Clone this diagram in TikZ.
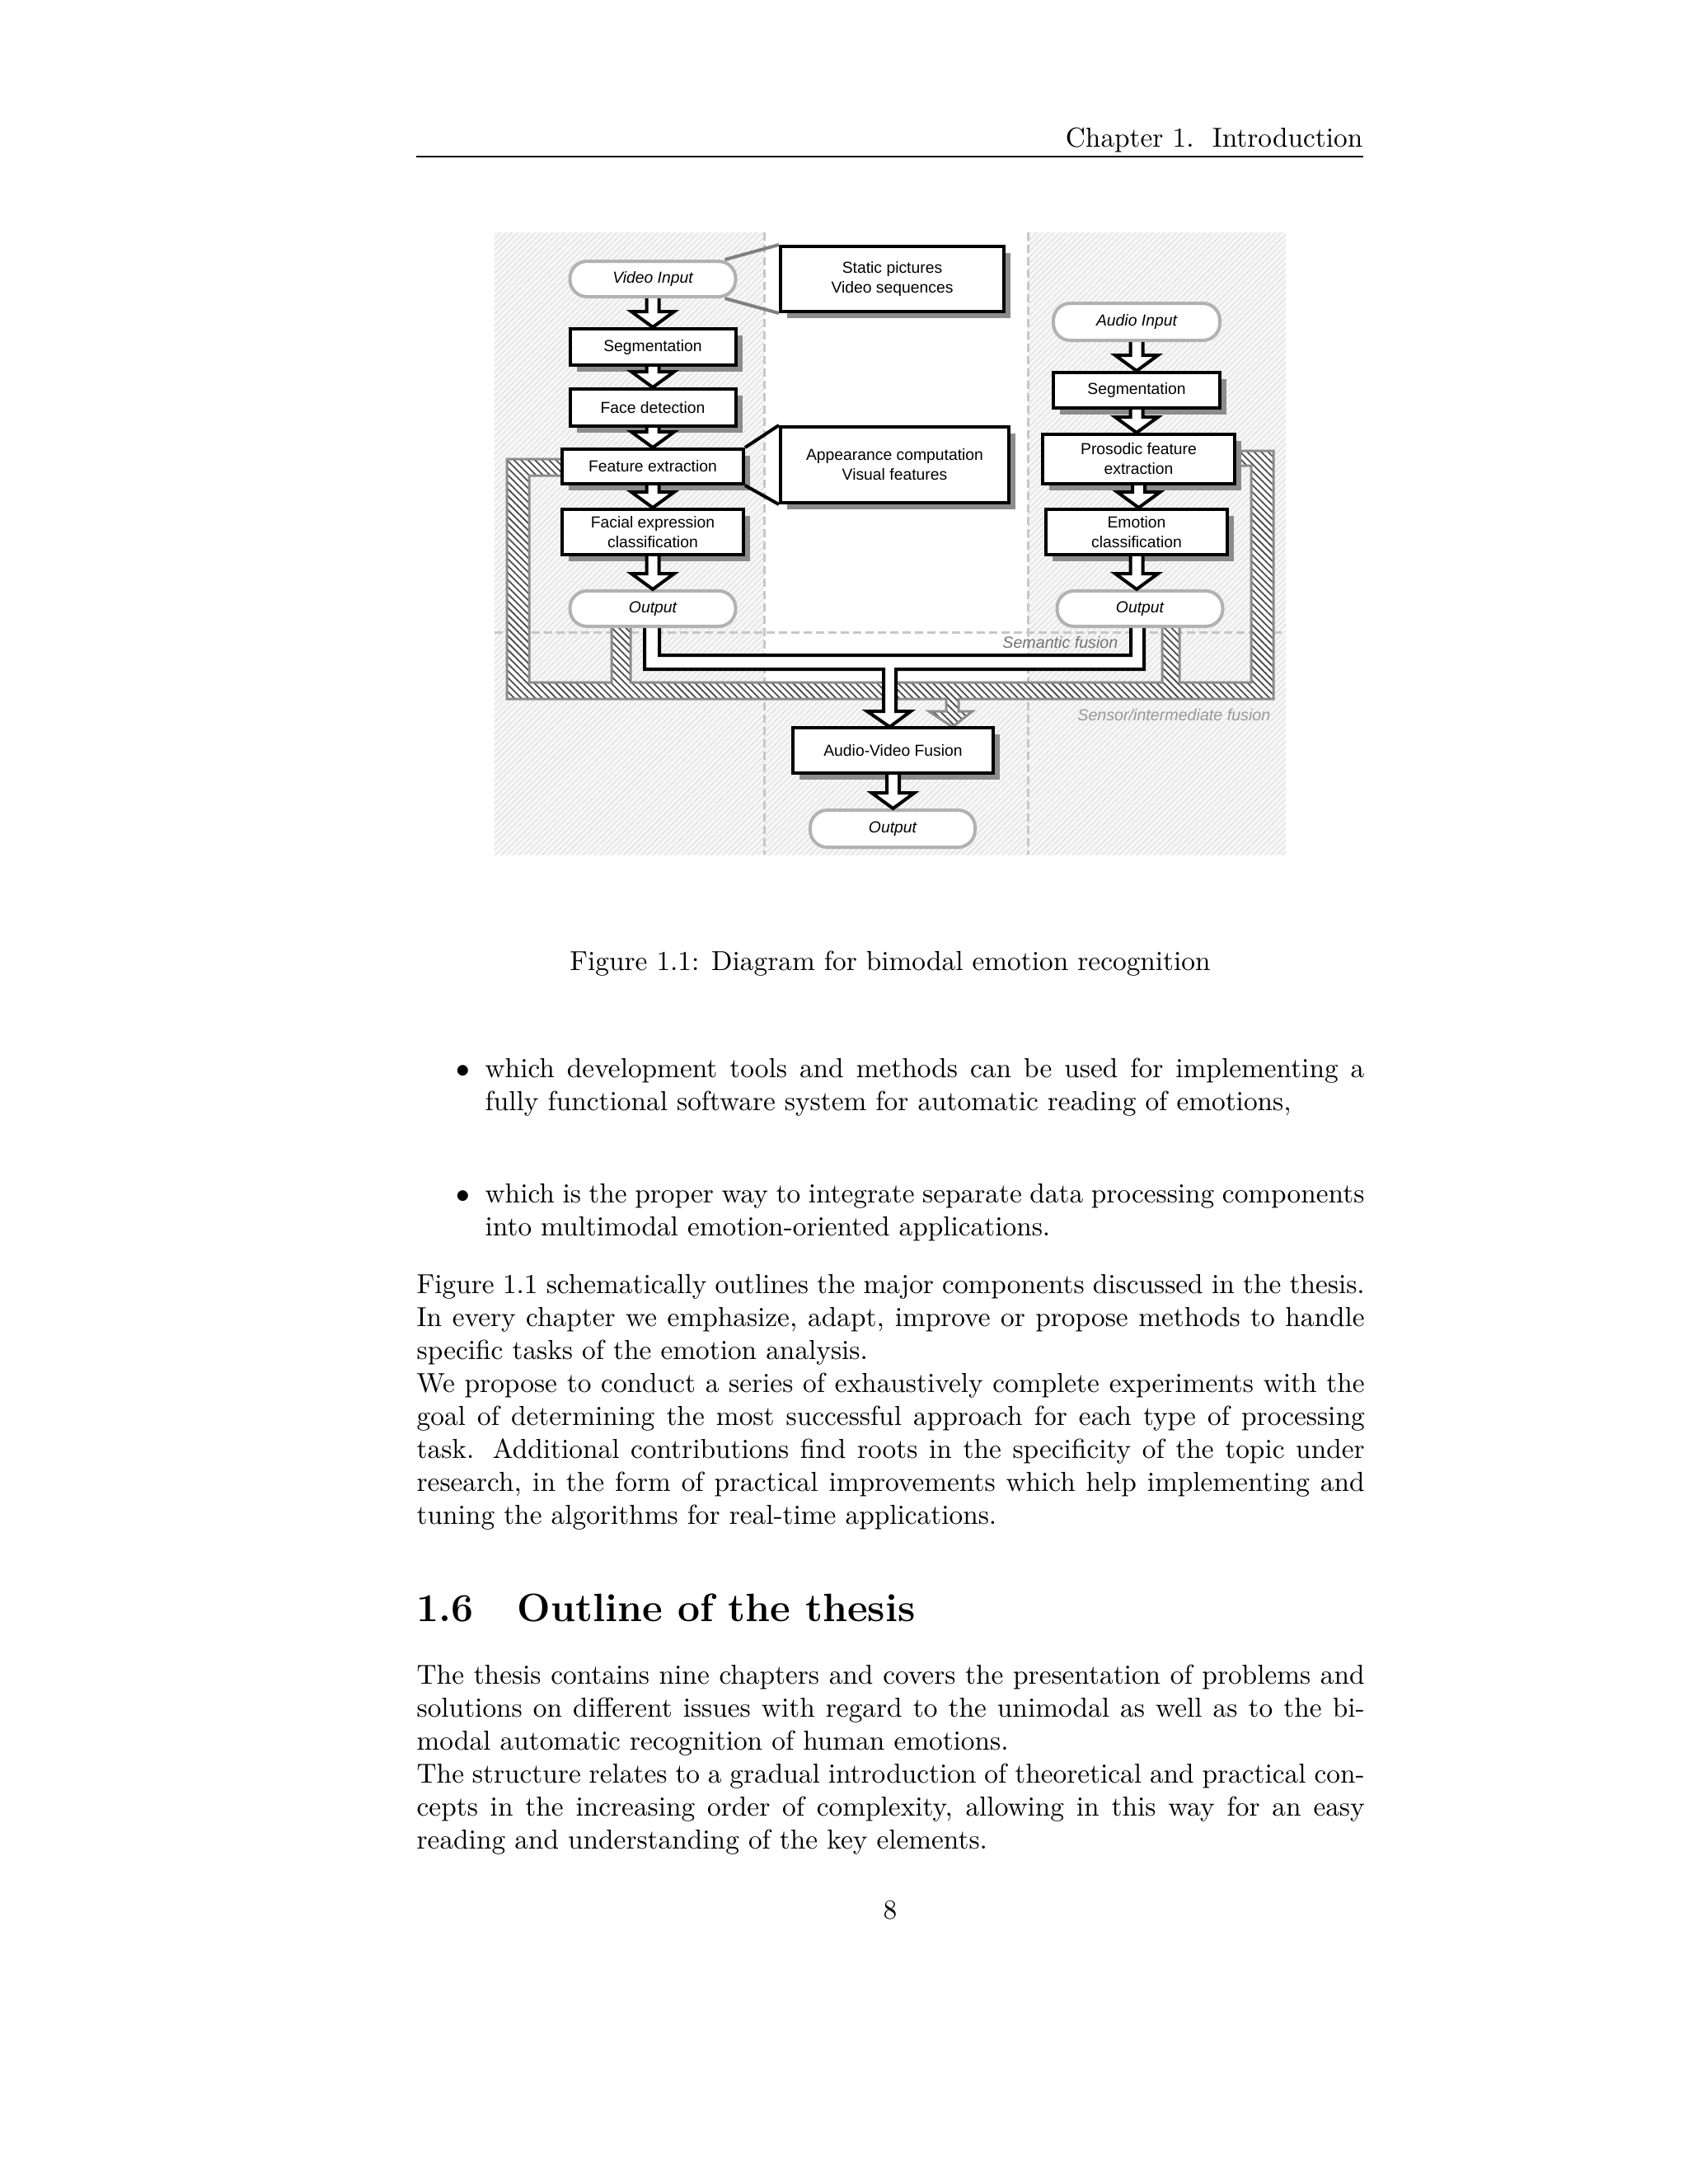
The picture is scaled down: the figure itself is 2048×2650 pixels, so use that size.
\documentclass[tikz,border=0pt]{standalone}
\usepackage{fontspec}
\newfontfamily\diafont{Liberation Sans}
\usetikzlibrary{calc, patterns.meta, shadows}

\tikzset{
  procbox/.style={draw=black, line width=1.2pt, fill=white, inner sep=0pt, align=center,
    font=\diafont\fontsize{5.8pt}{7.2pt}\selectfont,
    general shadow={shadow xshift=2.4pt, shadow yshift=-2.4pt, fill=black!45}},
  iobox/.style={draw=black!30, line width=1.2pt, fill=white, rounded corners=6.2pt,
    inner sep=0pt, minimum width=60.3pt, minimum height=12.9pt,
    font=\diafont\fontsize{5.8pt}{7.2pt}\selectfont\itshape},
  blockarrow/.style={draw=black, line width=1.2pt, fill=white},
  sepline/.style={black!22, line width=0.9pt, dash pattern=on 3pt off 1.5pt},
  sensorband/.style={draw=black!45, line width=0.9pt, preaction={fill=white},
    pattern={Lines[angle=-45, distance=1.8pt, line width=0.55pt]}, pattern color=black!70},
  semanticpipe/.style={draw=black, line width=1.2pt},
  fusionlabel/.style={inner sep=0pt, font=\diafont\fontsize{5.9pt}{7pt}\selectfont\itshape},
  bodytext/.style={text width=345pt, align=justify, inner sep=0pt, anchor=base west},
  itemtext/.style={text width=320pt, align=justify, inner sep=0pt, anchor=base west}
}

\newcommand{\flowarrow}[2]{%
  \draw[blockarrow] let \p1=(#1.south), \p2=(#2.north) in
    (\x1-2.25pt,\y1) -- (\x1-2.25pt,\y2+5.7pt) -- (\x1-7.8pt,\y2+5.7pt) -- (\x1,\y2)
    -- (\x1+7.8pt,\y2+5.7pt) -- (\x1+2.25pt,\y2+5.7pt) -- (\x1+2.25pt,\y1);}

\begin{document}
\begin{tikzpicture}[x=0.010542cm, y=-0.010542cm]
  \fill[white] (0,0) rectangle (2048,2650);
  \useasboundingbox (0,0) rectangle (2048,2650);

  % header
  \node[anchor=base east, inner sep=0pt] (header) at (1654,178) {Chapter 1.\ \ Introduction};
  \draw[line width=0.4pt] (505,190) -- (1654,190);

  % figure background
  \fill[black!3] (600,282) rectangle (1560,1037);
  \fill[pattern={Lines[angle=45, distance=1.5pt, line width=0.3pt]}, pattern color=black!13]
    (600,282) rectangle (1560,1037);
  \fill[white] (927,282) rectangle (1247,830);
  \draw[sepline] (927,282) -- (927,1037);
  \draw[sepline] (1247,282) -- (1247,1037);
  \draw[sepline] (600,767) -- (1560,767);

  % sensor / intermediate fusion channel
  \draw[sensorband] (682,557) -- (615,557) -- (615,848) -- (1148,848) -- (1148,863)
    -- (1127,863) -- (1155.5,882) -- (1180,863) -- (1163,863) -- (1163,848)
    -- (1545,848) -- (1545,547) -- (1498,547) -- (1498,565) -- (1518,565)
    -- (1518,828) -- (1431,828) -- (1431,760) -- (1410,760) -- (1410,828)
    -- (765,828) -- (765,760) -- (742,760) -- (742,828) -- (642,828)
    -- (642,577) -- (682,577) -- cycle;

  % semantic fusion channel
  \fill[white] (782,760) -- (782,812) -- (1072,812) -- (1072,863) -- (1052,863)
    -- (1079.5,882) -- (1105,863) -- (1087,863) -- (1087,812) -- (1388,812)
    -- (1388,760) -- (1372,760) -- (1372,795) -- (800,795) -- (800,760) -- cycle;
  \draw[semanticpipe] (782,760) -- (782,812) -- (1072,812) -- (1072,863) -- (1052,863)
    -- (1079.5,882) -- (1105,863) -- (1087,863) -- (1087,812) -- (1388,812) -- (1388,760)
    (1372,760) -- (1372,795) -- (800,795) -- (800,760);

  % video branch
  \node[iobox] (vin) at (792,338.5) {Video Input};
  \node[procbox, minimum width=60.3pt, minimum height=13.2pt] (vseg) at (792,421) {Segmentation};
  \node[procbox, minimum width=60.3pt, minimum height=13.5pt] (vface) at (792,494.5) {Face detection};
  \node[procbox, minimum width=66pt, minimum height=12.6pt] (vfeat) at (792,566) {Feature extraction};
  \node[procbox, minimum width=66pt, minimum height=16.5pt] (vclass) at (792,645.5) {Facial expression\\classification};
  \node[iobox] (vout) at (792,738.5) {Output};
  \node[procbox, minimum width=81.3pt, minimum height=23.7pt] (vsrc) at (1082.5,338.5) {Static pictures\\Video sequences};
  \node[procbox, minimum width=83.1pt, minimum height=27.6pt] (vdesc) at (1085.5,564) {Appearance computation\\Visual features};

  % audio branch
  \node[iobox, minimum width=60.6pt, minimum height=13.5pt] (ain) at (1379,390.5) {Audio Input};
  \node[procbox, minimum width=60.6pt, minimum height=12.9pt] (aseg) at (1379,473.5) {Segmentation};
  \node[procbox, minimum width=69.9pt, minimum height=18pt] (afeat) at (1381.5,557) {Prosodic feature\\extraction};
  \node[procbox, minimum width=66pt, minimum height=16.5pt] (aclass) at (1379,645.5) {Emotion\\classification};
  \node[iobox] (aout) at (1383,738.5) {Output};

  % fusion
  \node[procbox, minimum width=72.9pt, minimum height=16.5pt] (avfusion) at (1083.5,910.5) {Audio-Video Fusion};
  \node[iobox, minimum width=60pt, minimum height=13.5pt] (avout) at (1083,1005.5) {Output};

  % callouts
  \draw[black!50, line width=1.2pt] ([xshift=-4.5pt]vin.north east) -- (vsrc.north west);
  \draw[black!50, line width=1.2pt] ([xshift=-4.5pt]vin.south east) -- (vsrc.south west);
  \draw[line width=1.2pt] (vfeat.north east) -- (vdesc.north west);
  \draw[line width=1.2pt] (vfeat.south east) -- (vdesc.south west);

  \flowarrow{vin}{vseg}
  \flowarrow{vseg}{vface}
  \flowarrow{vface}{vfeat}
  \flowarrow{vfeat}{vclass}
  \flowarrow{vclass}{vout}
  \flowarrow{ain}{aseg}
  \flowarrow{aseg}{afeat}
  \flowarrow{afeat}{aclass}
  \flowarrow{aclass}{aout}
  \flowarrow{avfusion}{avout}

  \node[fusionlabel, text=black!55, anchor=east] (semlabel) at (1357,779) {Semantic fusion};
  \node[fusionlabel, text=black!40, anchor=east] (senslabel) at (1542,867) {Sensor/intermediate fusion};

  % caption and text
  \node[anchor=base, inner sep=0pt] (caption) at (1080,1177) {Figure 1.1: Diagram for bimodal emotion recognition};

  \node[anchor=base, inner sep=0pt] (bul1) at (562,1307) {$\bullet$};
  \node[itemtext] (item1) at (588,1307) {which development tools and methods can be used for implementing a fully functional software system for automatic reading of emotions,};
  \node[anchor=base, inner sep=0pt] (bul2) at (562,1459) {$\bullet$};
  \node[itemtext] (item2) at (588,1459) {which is the proper way to integrate separate data processing components into multimodal emotion-oriented applications.};

  \node[bodytext] (para1) at (505,1569) {Figure 1.1 schematically outlines the major components discussed in the thesis. In every chapter we emphasize, adapt, improve or propose methods to handle specific tasks of the emotion analysis.\par
    We propose to conduct a series of exhaustively complete experiments with the goal of determining the most successful approach for each type of processing task.  Additional contributions find roots in the specificity of the topic under research, in the form of practical improvements which help implementing and tuning the algorithms for real-time applications.};

  \node[anchor=base west, inner sep=0pt, font=\Large\bfseries] (sechead) at (505,1967) {1.6\hspace{15.9pt}Outline of the thesis};

  \node[bodytext] (para2) at (505,2043) {The thesis contains nine chapters and covers the presentation of problems and solutions on different issues with regard to the unimodal as well as to the bi-\linebreak modal automatic recognition of human emotions.\par
    The structure relates to a gradual introduction of theoretical and practical concepts in the increasing order of complexity, allowing in this way for an easy reading and understanding of the key elements.};

  \node[anchor=base, inner sep=0pt] (pagenum) at (1080,2328) {8};
\end{tikzpicture}
\end{document}
